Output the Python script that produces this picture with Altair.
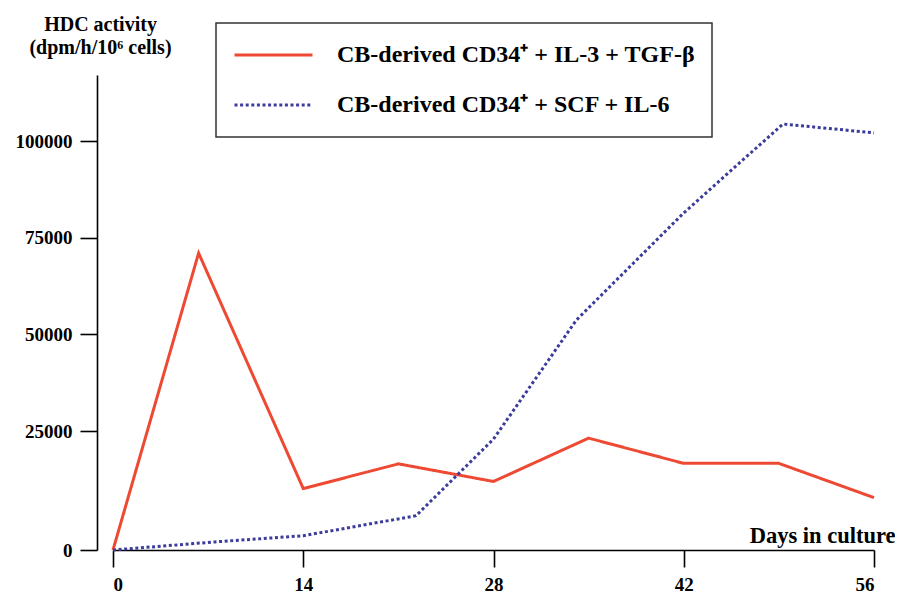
import altair as alt
import pandas as pd

# Series labels
red_label = "CB-derived CD34⁺ + IL-3 + TGF-β"
blue_label = "CB-derived CD34⁺ + SCF + IL-6"

# Red series (solid): days in culture and HDC activity
red_days = [0, 6.3, 14, 21, 28, 35, 42, 49, 56]
red_vals = [0, 71000, 12900, 18100, 14400, 23500, 18200, 18200, 11000]

# Blue series (dotted)
blue_days = [0, 7.5, 14, 22.3, 28, 34.1, 42, 49.3, 56]
blue_vals = [0, 1700, 3000, 7200, 23300, 53700, 81400, 104400, 102100]

x_ticks = [0, 14, 28, 42, 56]
y_ticks = [0, 25000, 50000, 75000, 100000]

red_color = "#ee4a33"
blue_color = "#3c3c9c"

df = pd.concat([
    pd.DataFrame({"day": red_days, "hdc": red_vals, "series": red_label, "order": range(len(red_days))}),
    pd.DataFrame({"day": blue_days, "hdc": blue_vals, "series": blue_label, "order": range(len(blue_days))}),
])

FONT = "Liberation Serif"

chart = alt.Chart(df).mark_line(strokeWidth=3).encode(
    x=alt.X("day:Q",
            scale=alt.Scale(domain=[0, 56], range=[16, 777], nice=False, zero=False),
            axis=alt.Axis(values=x_ticks, title="Days in culture",
                          titleX=798, titleY=-8, titleAlign="right", titleAnchor="end",
                          titleBaseline="alphabetic", titleFontSize=22.5,
                          tickSize=17, labelPadding=8, labelFontSize=19,
                          labelBaseline="top", grid=False)),
    y=alt.Y("hdc:Q",
            scale=alt.Scale(domain=[0, 25000, 117070], range=[475, 356, 0], nice=False, zero=False),
            axis=alt.Axis(values=y_ticks, format="d",
                          title=["HDC activity", "(dpm/h/10⁶ cells)"],
                          titleAngle=0, titleX=3, titleY=-45, titleAlign="center",
                          titleBaseline="alphabetic", titleFontSize=20, titleLineHeight=23,
                          tickSize=17, labelPadding=8, labelFontSize=19, grid=False)),
    color=alt.Color("series:N",
                    scale=alt.Scale(domain=[red_label, blue_label], range=[red_color, blue_color]),
                    legend=alt.Legend(title=None, orient="none", legendX=119, legendY=-52)),
    strokeDash=alt.StrokeDash("series:N",
                              scale=alt.Scale(domain=[red_label, blue_label], range=[[1, 0], [3, 2.6]]),
                              legend=alt.Legend(title=None, orient="none", legendX=119, legendY=-52)),
    order="order:Q",
).properties(
    width=798, height=475,
    autosize=alt.AutoSizeParams(type="none"),
    padding={"left": 89, "top": 67, "right": 0, "bottom": 46},
    background="white",
).configure_view(strokeWidth=0).configure_axis(
    domainColor="black", domainWidth=1.6, tickColor="black", tickWidth=1.6,
    labelFont=FONT, labelFontWeight="bold", labelColor="black",
    titleFont=FONT, titleFontWeight="bold", titleColor="black",
).configure_legend(
    symbolType="stroke", symbolSize=6084, symbolStrokeWidth=3,
    labelFont=FONT, labelFontSize=24, labelFontWeight="bold",
    labelColor="black", labelOffset=23, labelLimit=700,
    rowPadding=20, padding=17, clipHeight=30,
    strokeColor="#333333", fillColor="white", strokeWidth=1.5,
)

chart.save("out.html", embed_options={"renderer": "svg", "actions": False})
